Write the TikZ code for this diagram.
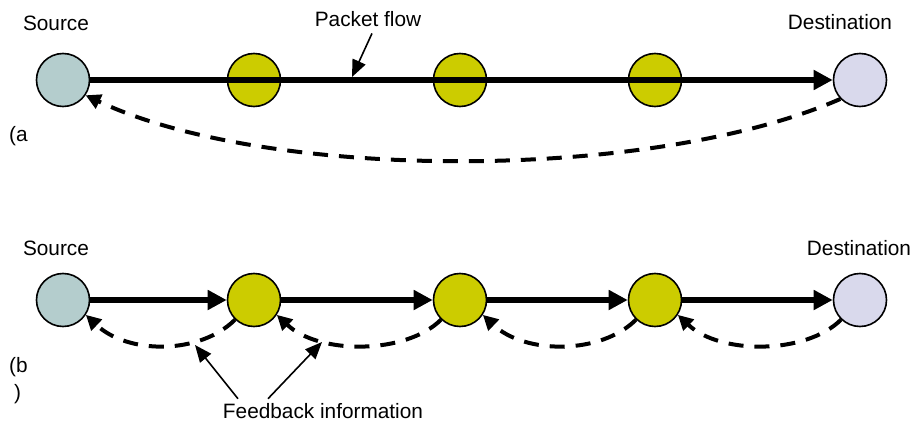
\documentclass[tikz,border=0pt]{standalone}
\usepackage{fontspec}
\setmainfont{Liberation Sans}
\usetikzlibrary{arrows.meta}
\definecolor{srcfill}{RGB}{180,205,205}
\definecolor{relayfill}{RGB}{204,204,0}
\definecolor{dstfill}{RGB}{217,217,236}
\begin{document}
\begin{tikzpicture}[x=1pt,y=1pt,
  every node/.style={font=\fontsize{20.8}{24}\selectfont},
  nodecirc/.style={circle,draw=black,line width=1.6pt,minimum size=53pt,inner sep=0pt},
  src/.style={nodecirc,fill=srcfill},
  relay/.style={nodecirc,fill=relayfill},
  dst/.style={nodecirc,fill=dstfill},
  lbl/.style={inner sep=0pt,anchor=base},
  flow/.style={line width=5.5pt,-{Triangle[length=19pt,width=19pt]}},
  fback/.style={line width=4pt,dash pattern=on 15pt off 11pt,-{Triangle[length=15pt,width=15pt]}},
  pointer/.style={line width=1.6pt,-{Triangle[length=17pt,width=14pt]}}
]
\useasboundingbox (0,0) rectangle (913,421);
% (a)
\node[src]   (sa) at (63,341) {};
\node[relay] (ra1) at (254,341) {};
\node[relay] (ra2) at (460,341) {};
\node[relay] (ra3) at (655,341) {};
\node[dst]   (da) at (860,341) {};
\node[lbl] (lsa) at (56,390) {Source};
\node[lbl] (lda) at (840,391) {Destination};
\node[lbl] (pf) at (368,394) {Packet flow};
\node[lbl,anchor=base west] (la) at (9,279) {(a};
\draw[flow] (sa.east) -- (da.west);
\coordinate (pftip) at (352,344);
\draw[pointer] ([xshift=4pt,yshift=-6pt]pf.south) -- (pftip);
\draw[fback] (da.224) .. controls +(-190,-83) and +(182,-86) .. (sa.-34);
% (b)
\node[src]   (sb) at (63,121) {};
\node[relay] (rb1) at (254,121) {};
\node[relay] (rb2) at (460,121) {};
\node[relay] (rb3) at (655,121) {};
\node[dst]   (db) at (860,121) {};
\node[lbl] (lsb) at (56,166) {Source};
\node[lbl] (ldb) at (859,166) {Destination};
\node[lbl,anchor=base west] (lb) at (9,49) {(b};
\node[lbl,anchor=base west] (lb2) at (14,22) {)};
\draw[flow] (sb.east) -- (rb1.west);
\draw[flow] (rb1.east) -- (rb2.west);
\draw[flow] (rb2.east) -- (rb3.west);
\draw[flow] (rb3.east) -- (db.west);
\draw[fback] (rb1.226) .. controls +(-35,-35) and +(42,-40) .. (sb.-33);
\draw[fback] (rb2.226) .. controls +(-35,-35) and +(42,-40) .. (rb1.-33);
\draw[fback] (rb3.226) .. controls +(-35,-35) and +(42,-40) .. (rb2.-33);
\draw[fback] (db.226) .. controls +(-35,-35) and +(42,-40) .. (rb3.-33);
\node[lbl] (fb) at (323,3) {Feedback information};
\coordinate (ft1) at (195,76);
\coordinate (ft2) at (322,79);
\draw[pointer] ([xshift=-85pt,yshift=4pt]fb.north) -- (ft1);
\draw[pointer] ([xshift=-55pt,yshift=4pt]fb.north) -- (ft2);
\end{tikzpicture}
\end{document}
